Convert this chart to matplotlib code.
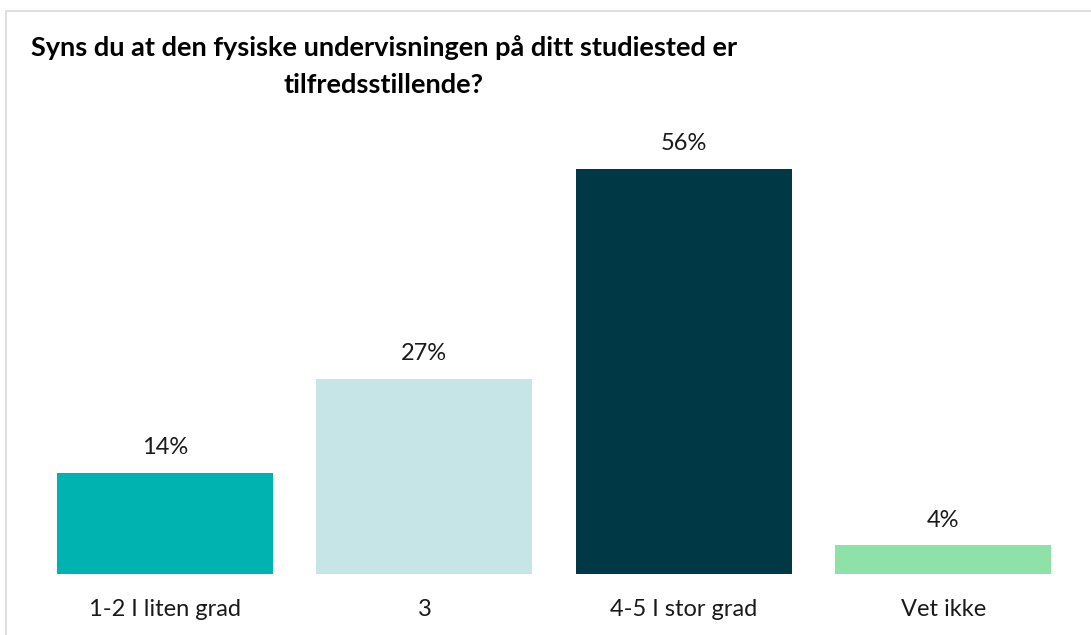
import matplotlib.pyplot as plt
from matplotlib.patches import Rectangle

categories = ['1-2 I liten grad', '3', '4-5 I stor grad', 'Vet ikke']
values = [14, 27, 56, 4]
colors = ['#00B2B0', '#C5E5E6', '#003846', '#8EE2A8']
title = 'Syns du at den fysiske undervisningen på ditt studiested er\ntilfredsstillende?'

plt.rcParams['font.family'] = ['Lato', 'DejaVu Sans']

fig = plt.figure(figsize=(10.91, 6.35), dpi=100)
ax = fig.add_axes([0.0323, 0.0961, 0.9512, 0.6834])

x = range(len(categories))
ax.bar(x, values, width=0.832, color=colors)
for xi, v in zip(x, values):
    ax.annotate(f'{v}%', (xi, v), xytext=(0, 18), textcoords='offset points',
                ha='center', va='center', fontsize=17, color='#1a1a1a')

ax.set_xlim(-0.5, len(categories) - 0.5)
ax.set_ylim(0, 60)
ax.set_xticks(list(x))
ax.set_xticklabels(categories, fontsize=17, color='#1a1a1a')
ax.tick_params(axis='x', length=0, pad=18)
ax.set_yticks([])
for s in ax.spines.values():
    s.set_visible(False)

# outer border of the chart area
fig.patches.append(Rectangle((6 / 1091, -0.1), 1.2, 1 - 11 / 635 + 0.1,
                             transform=fig.transFigure, fill=False,
                             edgecolor='#D9D9D9', linewidth=1.2))

fig.text(384 / 1091, 1 - 66 / 635, title,
         ha='center', va='center', fontsize=19.5, fontweight='bold',
         linespacing=1.65, color='#000000')

fig.savefig('out.png', dpi=100)
